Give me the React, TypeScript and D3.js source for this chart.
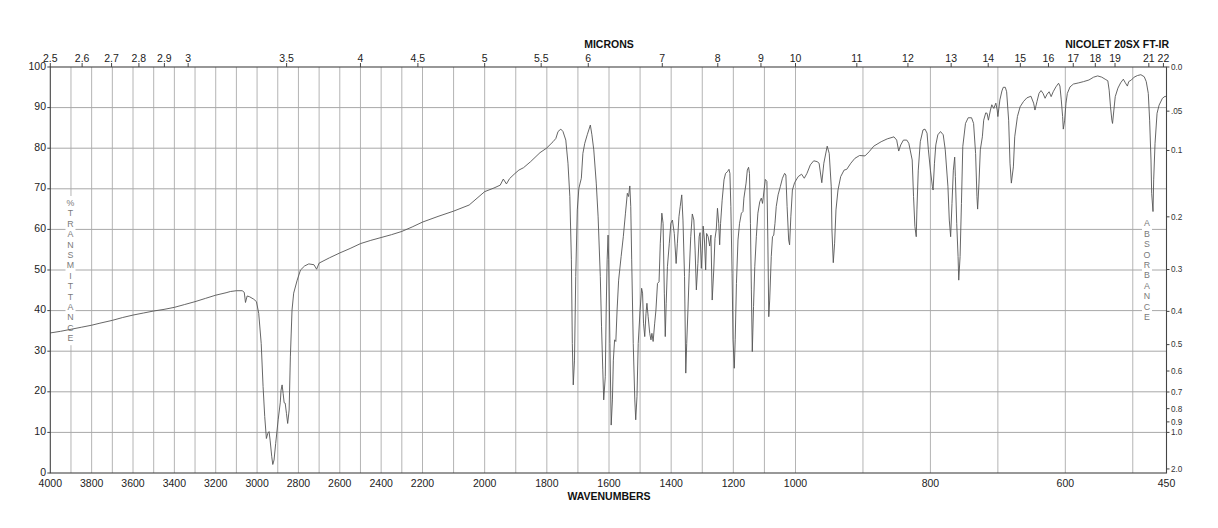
import React, { useRef, useEffect } from "react";
import * as d3 from "d3";

// spectrum (cm-1 and %T)
const wavenumbers = [
  4000, 3950, 3900, 3850, 3800, 3760, 3700, 3650, 3600, 3550, 3500, 3450, 3400, 3350, 3300, 3250,
  3200, 3150, 3129, 3100, 3072, 3062, 3056, 3048, 3036, 3016, 3003, 2992, 2980, 2971, 2963, 2955,
  2948, 2942, 2937, 2929, 2924, 2918, 2910, 2898, 2888, 2884, 2879, 2874, 2869, 2864, 2858, 2852,
  2845, 2839, 2831, 2823, 2806, 2790, 2770, 2750, 2725, 2712, 2700, 2650, 2600, 2550, 2500, 2450,
  2400, 2350, 2300, 2250, 2200, 2150, 2100, 2050, 2000, 1970, 1950, 1940, 1930, 1920, 1905, 1890,
  1875, 1852, 1822, 1801, 1780, 1771, 1764, 1755, 1748, 1739, 1732, 1726, 1721, 1718, 1715, 1711,
  1707, 1702, 1697, 1689, 1684, 1678, 1670, 1660, 1655, 1649, 1641, 1635, 1628, 1624, 1620, 1617,
  1612, 1609, 1606, 1603, 1601, 1597, 1593, 1589, 1586, 1582, 1578, 1574, 1569, 1561, 1554, 1547,
  1541, 1537, 1533, 1530, 1527, 1522, 1517, 1514, 1510, 1506, 1500, 1495, 1492, 1489, 1485, 1481,
  1478, 1474, 1469, 1465, 1462, 1458, 1453, 1449, 1444, 1439, 1435, 1430, 1426, 1422, 1419, 1416,
  1412, 1406, 1401, 1396, 1390, 1384, 1380, 1375, 1371, 1366, 1362, 1357, 1353, 1350, 1346, 1342,
  1337, 1332, 1327, 1323, 1319, 1314, 1310, 1307, 1303, 1300, 1297, 1293, 1289, 1286, 1281, 1276,
  1272, 1268, 1263, 1259, 1255, 1251, 1247, 1244, 1241, 1236, 1230, 1225, 1219, 1214, 1211, 1208,
  1204, 1201, 1197, 1194, 1190, 1185, 1180, 1174, 1169, 1166, 1159, 1155, 1151, 1148, 1145, 1142,
  1139, 1135, 1131, 1126, 1121, 1115, 1110, 1106, 1101, 1097, 1092, 1089, 1086, 1083, 1078, 1074,
  1070, 1066, 1062, 1056, 1049, 1042, 1035, 1031, 1027, 1022, 1019, 1015, 1010, 1003, 996, 991,
  987, 983, 978, 973, 968, 965, 961, 958, 953, 950, 947, 946, 944, 942, 940, 937,
  933, 928, 924, 918, 912, 905, 897, 891, 884, 873, 864, 854, 850, 847, 844, 840,
  835, 832, 827, 825, 823, 821, 820, 818, 815, 811, 808, 805, 803, 800, 797, 796,
  794, 792, 789, 785, 781, 778, 774, 772, 770, 768, 766, 764, 763, 761, 759, 758,
  756, 754, 752, 748, 744, 739, 736, 733, 731, 730, 728, 726, 723, 721, 718, 716,
  714, 711, 709, 706, 703, 701, 700, 697, 694, 692, 689, 687, 684, 682, 680, 677,
  675, 671, 667, 662, 657, 651, 647, 645, 642, 639, 636, 633, 630, 627, 624, 621,
  618, 614, 610, 608, 606, 604, 603, 601, 599, 597, 593, 588, 580, 573, 565, 558,
  552, 546, 541, 537, 535, 533, 531, 530, 528, 526, 522, 518, 514, 511, 508, 506,
  502, 498, 493, 488, 483, 480, 477, 475, 473, 472, 470, 469, 467, 464, 461, 456,
  452, 450,
];

const transmittance = [
  34.5, 34.9, 35.4, 35.9, 36.4, 36.9, 37.6, 38.3, 38.9, 39.4, 39.9, 40.3, 40.8, 41.5, 42.2, 43.0,
  43.8, 44.4, 44.7, 44.9, 44.9, 44.5, 42.0, 43.6, 43.4, 42.8, 42.2, 39.3, 31.9, 21.3, 13.9, 8.5,
  9.8, 10.2, 8.1, 4.0, 2.1, 3.2, 7.3, 13.1, 17.3, 20.4, 21.7, 19.6, 17.3, 17.2, 14.7, 12.2,
  15.5, 28.6, 40.1, 44.3, 47.5, 50.0, 51.0, 51.5, 51.3, 50.2, 51.7, 53.0, 54.2, 55.3, 56.5, 57.3,
  58.0, 58.7, 59.5, 60.6, 61.8, 63.2, 64.5, 66.0, 69.3, 70.2, 70.9, 72.4, 71.2, 72.5, 73.6, 74.6,
  75.2, 76.7, 78.9, 80.0, 81.6, 82.4, 84.1, 84.7, 84.1, 82.0, 76.3, 68.1, 52.5, 31.9, 21.7, 27.8,
  48.4, 64.8, 70.1, 72.6, 78.7, 81.2, 83.3, 85.7, 83.3, 79.6, 71.4, 63.1, 48.4, 36.0, 25.4, 18.0,
  23.7, 40.1, 52.5, 58.6, 52.5, 31.9, 11.8, 18.0, 27.8, 32.8, 32.4, 40.1, 47.5, 53.3, 58.2, 64.0,
  68.9, 68.1, 70.7, 65.6, 52.5, 31.9, 18.0, 13.1, 18.8, 31.9, 40.1, 45.5, 44.3, 36.9, 33.6, 39.3,
  41.8, 38.5, 34.4, 32.8, 34.4, 32.4, 36.9, 40.1, 46.7, 47.1, 56.6, 64.0, 61.5, 44.3, 33.6, 41.8,
  50.8, 56.6, 61.5, 62.3, 59.0, 51.6, 56.6, 63.1, 65.6, 68.5, 62.3, 48.4, 24.6, 31.9, 40.1, 49.2,
  58.2, 63.8, 62.3, 54.9, 45.1, 51.6, 58.2, 59.2, 50.4, 54.9, 60.8, 57.4, 50.0, 59.0, 58.2, 55.9,
  58.6, 42.6, 50.0, 57.8, 59.9, 65.2, 61.5, 56.2, 61.5, 67.2, 72.2, 73.8, 74.2, 74.8, 73.8, 65.6,
  49.2, 32.8, 25.8, 32.8, 46.7, 57.4, 61.5, 64.0, 64.4, 67.7, 71.4, 74.6, 75.3, 73.8, 61.5, 45.1,
  29.9, 41.0, 50.8, 58.2, 64.0, 66.8, 67.7, 66.4, 69.7, 72.3, 71.8, 57.4, 38.5, 42.6, 53.3, 58.2,
  58.6, 61.5, 65.6, 68.5, 70.5, 72.6, 73.8, 73.4, 65.6, 57.4, 56.2, 63.1, 69.7, 71.5, 73.0, 73.6,
  72.6, 73.8, 75.9, 76.9, 76.7, 76.3, 71.5, 76.3, 80.5, 78.7, 70.5, 59.9, 51.8, 56.6, 64.8, 69.7,
  73.0, 74.6, 74.8, 76.3, 77.5, 78.2, 78.1, 79.1, 80.5, 81.6, 82.3, 82.8, 82.0, 79.3, 80.8, 82.0,
  82.0, 81.2, 77.1, 68.1, 60.7, 58.2, 64.8, 74.6, 81.6, 84.5, 84.7, 83.7, 79.6, 74.6, 70.5, 69.7,
  76.3, 80.8, 83.3, 84.1, 83.3, 79.6, 70.5, 62.3, 58.2, 66.4, 74.6, 77.8, 73.0, 61.5, 53.3, 47.5,
  53.3, 66.4, 80.4, 86.1, 87.5, 87.5, 86.1, 78.7, 68.1, 65.0, 71.4, 79.6, 82.8, 86.9, 88.7, 88.6,
  86.9, 89.4, 90.7, 89.8, 91.1, 89.4, 87.8, 91.9, 94.1, 95.0, 95.0, 93.9, 86.9, 76.3, 71.4, 75.4,
  82.8, 87.8, 90.2, 91.5, 92.4, 92.8, 91.1, 89.4, 91.5, 93.5, 94.2, 93.5, 92.3, 93.3, 93.9, 92.7,
  93.9, 95.1, 96.0, 95.3, 91.9, 87.8, 84.7, 86.9, 91.1, 93.5, 95.1, 95.8, 96.1, 96.4, 96.8, 97.5,
  97.8, 97.5, 97.0, 96.6, 94.3, 90.2, 86.9, 86.1, 89.4, 92.7, 94.8, 96.1, 97.0, 96.1, 95.3, 96.4,
  96.8, 97.5, 97.9, 98.1, 97.6, 96.4, 93.5, 86.9, 77.1, 68.9, 64.4, 72.2, 81.2, 88.6, 90.6, 92.3,
  92.8, 92.5,
];

const wavenumberTicks = [
  4000, 3800, 3600, 3400, 3200, 3000, 2800, 2600, 2400, 2200, 2000, 1800, 1600, 1400, 1200, 1000, 800, 600, 450,
];
const micronTicks = [
  2.5, 2.6, 2.7, 2.8, 2.9, 3, 3.5, 4, 4.5, 5, 5.5, 6, 7, 8, 9, 10, 11, 12, 13, 14, 15, 16, 17, 18, 19, 21, 22,
];
const percentTicks = [0, 10, 20, 30, 40, 50, 60, 70, 80, 90, 100];
const absorbanceValues = [0, 0.05, 0.1, 0.2, 0.3, 0.4, 0.5, 0.6, 0.7, 0.8, 0.9, 1.0, 2.0];
const absorbanceLabels = ["0.0", ".05", "0.1", "0.2", "0.3", "0.4", "0.5", "0.6", "0.7", "0.8", "0.9", "1.0", "2.0"];
const leftTitle = "%TRANSMITTANCE".split("");
const rightTitle = "ABSORBANCE".split("");

const IRSpectrum = () => {
  const svgRef = useRef<SVGSVGElement>(null);

  useEffect(() => {
    if (!svgRef.current) return;
    document.body.style.margin = "0";

    const svg = d3.select(svgRef.current);
    svg.selectAll("*").remove();

    const width = 1218;
    const height = 528;
    const font = "'Liberation Sans', Arial, Helvetica, sans-serif";

    // the chart paper changes scale at 2200 and 1000 cm-1
    const x = d3.scaleLinear().domain([4000, 2200, 1000, 450]).range([50.3, 422.5, 795.5, 1166.5]);
    const y = d3.scaleLinear().domain([0, 100]).range([473, 67]);
    const left = x(4000);
    const right = x(450);
    const top = y(100);
    const bottom = y(0);

    svg
      .attr("viewBox", [0, 0, width, height])
      .attr("width", width)
      .attr("height", height)
      .style("display", "block")
      .style("font-family", font);

    svg.append("rect").attr("width", width).attr("height", height).attr("fill", "white");

    // grid
    const grid = svg.append("g").attr("stroke-width", 1);
    grid
      .selectAll("line.v")
      .data(d3.range(3900, 499, -100))
      .join("line")
      .attr("x1", (d) => x(d))
      .attr("x2", (d) => x(d))
      .attr("y1", top)
      .attr("y2", bottom)
      .attr("stroke", "#b4b4b4");
    grid
      .selectAll("line.h")
      .data(percentTicks.slice(1, -1))
      .join("line")
      .attr("x1", left)
      .attr("x2", right)
      .attr("y1", (d) => y(d))
      .attr("y2", (d) => y(d))
      .attr("stroke", "#a8a8a8");

    // vertical letter titles inside the plot
    const columnTitle = (letters: string[], cx: number, y0: number) => {
      const step = 10.4;
      const g = svg.append("g");
      g.append("rect")
        .attr("x", cx - 5)
        .attr("y", y0 - 7)
        .attr("width", 10)
        .attr("height", (letters.length - 1) * step + 14)
        .attr("fill", "white");
      g.selectAll("text")
        .data(letters)
        .join("text")
        .attr("x", cx)
        .attr("y", (_, i) => y0 + i * step)
        .attr("dy", "0.35em")
        .attr("text-anchor", "middle")
        .attr("font-size", 8.8)
        .attr("fill", "#7a7a7a")
        .text((d) => d);
    };
    columnTitle(leftTitle, 70.5, 203);
    columnTitle(rightTitle, 1147, 223.3);

    // spectrum
    const points = wavenumbers.map((w, i) => [w, transmittance[i]] as [number, number]);
    const line = d3
      .line<[number, number]>()
      .x((d) => x(d[0]))
      .y((d) => y(d[1]));
    svg
      .append("path")
      .attr("fill", "none")
      .attr("stroke", "#555")
      .attr("stroke-width", 0.9)
      .attr("stroke-linejoin", "round")
      .attr("d", line(points));

    // frame
    svg
      .append("rect")
      .attr("x", left)
      .attr("y", top)
      .attr("width", right - left)
      .attr("height", bottom - top)
      .attr("fill", "none")
      .attr("stroke", "#444")
      .attr("stroke-width", 1.1);

    // left %T axis
    const leftAxis = svg.append("g").attr("font-size", 10.5).attr("fill", "#222");
    leftAxis
      .selectAll("line")
      .data(percentTicks)
      .join("line")
      .attr("x1", left - 3)
      .attr("x2", left)
      .attr("y1", (d) => y(d))
      .attr("y2", (d) => y(d))
      .attr("stroke", "#444");
    leftAxis
      .selectAll("text")
      .data(percentTicks)
      .join("text")
      .attr("x", 46)
      .attr("y", (d) => y(d) - 1)
      .attr("dy", "0.35em")
      .attr("text-anchor", "end")
      .text((d) => d);

    // top micron axis
    const topAxis = svg.append("g").attr("font-size", 10.5).attr("fill", "#222");
    topAxis
      .selectAll("line")
      .data(micronTicks)
      .join("line")
      .attr("x1", (d) => x(10000 / d))
      .attr("x2", (d) => x(10000 / d))
      .attr("y1", top - 4)
      .attr("y2", top)
      .attr("stroke", "#444");
    topAxis
      .selectAll("text")
      .data(micronTicks)
      .join("text")
      .attr("x", (d) => x(10000 / d))
      .attr("y", 61.5)
      .attr("text-anchor", "middle")
      .text((d) => d);

    // bottom wavenumber axis
    svg
      .append("g")
      .attr("font-size", 10.5)
      .attr("fill", "#222")
      .selectAll("text")
      .data(wavenumberTicks)
      .join("text")
      .attr("x", (d) => x(d))
      .attr("y", 487)
      .attr("text-anchor", "middle")
      .text((d) => d);

    // right absorbance axis
    const rightAxis = svg.append("g").attr("font-size", 8.2).attr("fill", "#333");
    rightAxis
      .selectAll("line")
      .data(absorbanceValues)
      .join("line")
      .attr("x1", right)
      .attr("x2", right + 3)
      .attr("y1", (d) => y(100 * Math.pow(10, -d)))
      .attr("y2", (d) => y(100 * Math.pow(10, -d)))
      .attr("stroke", "#444");
    rightAxis
      .selectAll("text")
      .data(absorbanceValues)
      .join("text")
      .attr("x", right + 4.5)
      .attr("y", (d) => y(100 * Math.pow(10, -d)))
      .attr("dy", "0.35em")
      .text((_, i) => absorbanceLabels[i]);

    // titles
    const titles = svg.append("g").attr("font-size", 10.5).attr("font-weight", "bold").attr("fill", "#111");
    titles.append("text").attr("x", 609).attr("y", 48).attr("text-anchor", "middle").text("MICRONS");
    titles.append("text").attr("x", 1169).attr("y", 48).attr("text-anchor", "end").text("NICOLET 20SX FT-IR");
    titles.append("text").attr("x", 609).attr("y", 500).attr("text-anchor", "middle").text("WAVENUMBERS");
  }, []);

  return <svg ref={svgRef} style={{ position: "absolute", left: 0, top: 0 }}></svg>;
};

export default function App() {
  return <IRSpectrum />;
}
